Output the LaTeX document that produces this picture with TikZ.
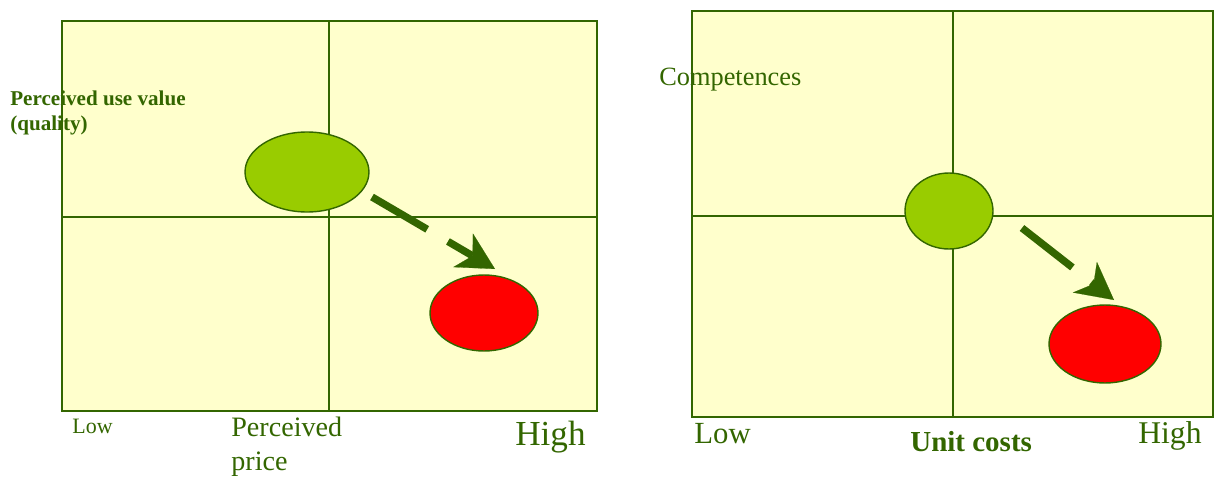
\documentclass[tikz,border=0pt]{standalone}
\usepackage{fontspec}
\setmainfont{Liberation Serif}
\usepackage{xcolor}
\usetikzlibrary{arrows.meta,shapes.geometric}

\definecolor{leafdark}{HTML}{336600}
\definecolor{leaflight}{HTML}{99CC00}
\definecolor{paleyellow}{HTML}{FFFFCC}

\begin{document}
\begin{tikzpicture}[
  x=0.02cm, y=-0.02cm,
  panel/.style={fill=paleyellow},
  gridline/.style={draw=leafdark, line width=1.1pt},
  blob/.style={ellipse, draw=leafdark, line width=0.8pt, inner sep=0pt},
  greenblob/.style={blob, fill=leaflight},
  redblob/.style={blob, fill=red},
  lbl/.style={text=leafdark, inner sep=0pt, anchor=base west, align=left},
  move/.style={draw=leafdark, line width=4.2pt, dash pattern=on 1.28cm off 0.48cm,
    -{Stealth[length=0.74cm, width=0.78cm, inset=0.22cm, line width=0.1pt, fill=leafdark]}}
]
\useasboundingbox (0,0) rectangle (1218,480);

% panels
\path[panel] (62,21) rectangle (597,411);
\path[panel] (692,11) rectangle (1213,417);

% left panel texts (base = last line)
\node[lbl, font=\fontsize{12}{13.7}\selectfont\bfseries] (pvlabel) at (10,130) {Perceived use value\\(quality)};
\node[lbl, font=\fontsize{12.5}{14}\selectfont] (pvlow) at (72,433) {Low};
\node[lbl, font=\fontsize{16}{18.8}\selectfont] (pvprice) at (231,470) {Perceived\\price};
\node[lbl, font=\fontsize{20}{22}\selectfont] (pvhigh) at (515,445) {High};

% right panel texts
\node[lbl, font=\fontsize{15}{17}\selectfont] (uccomp) at (659,85) {Competences};
\node[lbl, font=\fontsize{17.5}{20}\selectfont] (uclow) at (694,443) {Low};
\node[lbl, font=\fontsize{16.5}{19}\selectfont\bfseries] (uccost) at (910,451) {Unit costs};
\node[lbl, font=\fontsize{18}{20}\selectfont] (uchigh) at (1138,443) {High};

% grids
\draw[gridline] (62,21) rectangle (597,411);
\draw[gridline] (329,21) -- (329,411);
\draw[gridline] (62,217) -- (597,217);
\draw[gridline] (692,11) rectangle (1213,417);
\draw[gridline] (953,11) -- (953,417);
\draw[gridline] (692,216) -- (1213,216);

% positions
\node[greenblob, minimum width=2.48cm, minimum height=1.6cm] (pvstart) at (307,172) {};
\node[redblob, minimum width=2.16cm, minimum height=1.52cm] (pvend) at (484,313) {};
\node[greenblob, minimum width=1.76cm, minimum height=1.52cm] (ucstart) at (949,211) {};
\node[redblob, minimum width=2.24cm, minimum height=1.56cm] (ucend) at (1105,344) {};

% moves
\coordinate (pvfrom) at (372,197);
\coordinate (pvto) at (495,269);
\coordinate (ucfrom) at (1022,228);
\coordinate (ucto) at (1114,300);
\draw[move] (pvfrom) -- (pvto);
\draw[move] (ucfrom) -- (ucto);
\end{tikzpicture}
\end{document}
